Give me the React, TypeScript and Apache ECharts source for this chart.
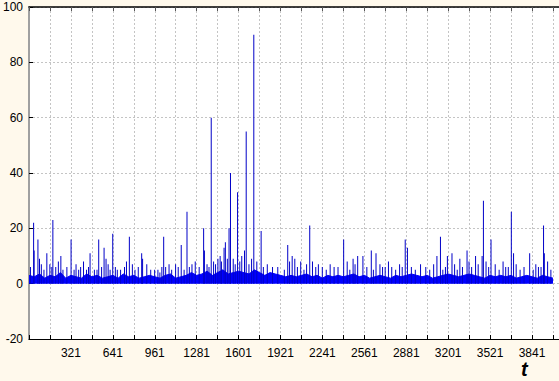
import React, { useEffect, useRef } from "react";
import * as echarts from "echarts";

// Axis settings
const yMin = -20;
const yMax = 100;
const yStep = 20;
const tStart = 1;
const tStep = 160;
const tLabelStep = 320;
const tEnd = 4047;

// Dense baseline band: height read every 40 time steps (t = 1, 41, 81, ...)
const bandStepT = 40;
const bandValues = [
  3, 2.5, 3.5, 2, 3, 2.5, 4, 2, 3, 2.5,
  2, 3.5, 2.5, 3, 2, 2.5, 3, 2, 3.5, 2.5,
  3, 2, 2.5, 3, 2.5, 2, 3, 3.5, 2, 2.5,
  3, 4, 3, 3.5, 4.5, 3, 4, 5, 3.5, 4,
  4.5, 4, 3.5, 5, 4, 3, 4, 3.5, 3, 2.5,
  3, 2.5, 3, 3.5, 2.5, 3, 2, 3, 2.5, 3,
  2.5, 3, 3.5, 2.5, 3, 2, 2.5, 3, 2.5, 2,
  3, 2.5, 3, 3.5, 3, 2.5, 3, 2, 2.5, 3,
  3.5, 3, 2.5, 3, 3.5, 3, 2.5, 2, 3, 2.5,
  3, 2.5, 3, 2, 2.5, 3, 2.5, 2, 3, 2.5,
  2,
];

// Large and medium spikes: time index and value
const spikeT = [
  36, 40, 69, 81, 137, 160, 175, 183, 244, 260, 322, 380, 417, 440, 467, 500,
  533, 574, 589, 620, 640, 675, 767, 790, 861, 868, 930, 960, 1000, 1029, 1044,
  1070, 1163, 1207, 1245, 1334, 1340, 1392, 1443, 1490, 1500, 1528, 1539, 1593,
  1646, 1659, 1717, 1773, 1860, 1976, 1990, 2010, 2030, 2144, 2165, 2210, 2240,
  2330, 2403, 2475, 2510, 2550, 2614, 2650, 2720, 2770, 2850, 2873, 2890, 3115,
  3142, 3160, 3195, 3230, 3290, 3345, 3380, 3410, 3460, 3470, 3490, 3528, 3640,
  3683, 3700, 3823, 3890, 3929, 3935,
];
const spikeV = [
  22, 12, 16, 9, 11, 7, 6, 23, 10, 5, 16, 5, 8, 5, 11, 5,
  16, 13, 9, 5, 18, 5, 17, 7, 11, 9, 5, 5, 4, 17, 6,
  7, 14, 26, 7, 20, 12, 60, 9, 13, 15, 20, 40, 33,
  12, 55, 90, 19, 6, 14, 8, 10, 9, 21, 8, 7, 6,
  6, 16, 9, 10, 10, 12, 11, 6, 6, 6, 16, 13, 10,
  17, 5, 10, 11, 9, 12, 6, 10, 10, 30, 8, 16, 6,
  26, 11, 11, 6, 21, 11,
];

// Small spikes rising just above the band
const smallT = [
  12, 95, 115, 205, 225, 290, 345, 360, 395, 455, 520, 555, 605, 660, 700, 730,
  745, 810, 835, 900, 985, 1015, 1090, 1120, 1140, 1185, 1225, 1270, 1300, 1360,
  1375, 1410, 1425, 1460, 1470, 1515, 1560, 1575, 1610, 1625, 1680, 1700, 1740,
  1790, 1820, 1900, 1950, 2050, 2075, 2100, 2120, 2190, 2270, 2300, 2360, 2430,
  2450, 2490, 2580, 2630, 2680, 2700, 2745, 2800, 2830, 2920, 2950, 2990, 3030,
  3060, 3090, 3180, 3250, 3270, 3310, 3360, 3430, 3510, 3560, 3590, 3620, 3660,
  3720, 3750, 3780, 3850, 3870, 3910, 3960, 3985,
];
const smallV = [
  6, 7, 5, 6, 8, 6, 5, 7, 6, 6, 5, 6, 7, 6, 5, 6,
  8, 5, 6, 7, 5, 6, 5, 7, 6, 5, 6, 8, 6, 7,
  6, 8, 7, 10, 8, 9, 9, 7, 8, 10, 7, 9, 8,
  6, 7, 6, 5, 6, 8, 5, 7, 6, 5, 7, 6, 8,
  5, 7, 6, 5, 7, 6, 8, 5, 7, 6, 5, 7, 6,
  5, 7, 6, 7, 5, 6, 8, 7, 6, 7, 5, 8, 6,
  7, 5, 6, 5, 7, 6, 8, 5,
];

export default function App() {
  const ref = useRef<HTMLDivElement>(null);
  useEffect(() => {
    if (!ref.current) return;
    const chart = echarts.init(ref.current, null, { renderer: "svg" });
    // axis coordinate = t - tStart so that ticks start at 0
    const band = bandValues.map((v, i) => [i * bandStepT, v]);
    const spikes = spikeT
      .map((t, i) => [t - tStart, spikeV[i]])
      .concat(smallT.map((t, i) => [t - tStart, smallV[i]]));
    const fontFamily = "'Liberation Sans', Arial, sans-serif";
    const xCommon = {
      type: "value" as const,
      min: 0,
      max: tEnd - tStart,
      interval: tStep,
    };
    chart.setOption({
      animation: false,
      backgroundColor: "#FFF9EC",
      grid: {
        left: 28,
        right: 0,
        top: 7,
        bottom: 42,
        show: true,
        backgroundColor: "#ffffff",
        borderWidth: 0,
      },
      xAxis: [
        {
          ...xCommon,
          position: "bottom",
          axisLine: { onZero: false, lineStyle: { color: "#000", width: 1 } },
          axisTick: { inside: true, length: 4, lineStyle: { color: "#000" } },
          axisLabel: {
            color: "#000",
            fontSize: 12,
            fontFamily,
            margin: 8,
            showMaxLabel: false,
            formatter: (v: number) =>
              v > 0 && v % tLabelStep === 0 ? String(v + tStart) : "",
          },
          splitLine: {
            show: true,
            lineStyle: { color: "#c4c4c4", type: [2, 2], width: 1 },
          },
        },
        {
          ...xCommon,
          position: "top",
          axisLine: { onZero: false, lineStyle: { color: "#000", width: 1.5 } },
          axisTick: { inside: true, length: 4, lineStyle: { color: "#555" } },
          axisLabel: { show: false },
          splitLine: { show: false },
        },
      ],
      yAxis: {
        type: "value",
        min: yMin,
        max: yMax,
        interval: yStep,
        axisLine: { show: true, onZero: false, lineStyle: { color: "#a0a0a0", width: 2 } },
        axisTick: { show: true, inside: true, length: 4, lineStyle: { color: "#000" } },
        axisLabel: { color: "#000", fontSize: 12, fontFamily, margin: 6 },
        splitLine: {
          show: true,
          lineStyle: { color: "#c4c4c4", type: [2, 2], width: 1 },
        },
      },
      series: [
        {
          type: "line",
          data: band,
          showSymbol: false,
          lineStyle: { color: "#0000ff", width: 1 },
          areaStyle: { color: "#0000ff", opacity: 1 },
          z: 3,
        },
        {
          type: "bar",
          data: spikes,
          barWidth: 1,
          itemStyle: { color: "#0000c8" },
          z: 4,
        },
      ],
      graphic: [
        {
          type: "text",
          left: 521,
          top: 359,
          style: {
            text: "t",
            fontSize: 20,
            fontStyle: "italic",
            fontWeight: "bold",
            fontFamily,
            fill: "#000",
          },
        },
      ],
    });
    return () => chart.dispose();
  }, []);
  return (
    <div
      ref={ref}
      style={{ position: "fixed", left: 0, top: 0, width: 559, height: 381 }}
    />
  );
}
